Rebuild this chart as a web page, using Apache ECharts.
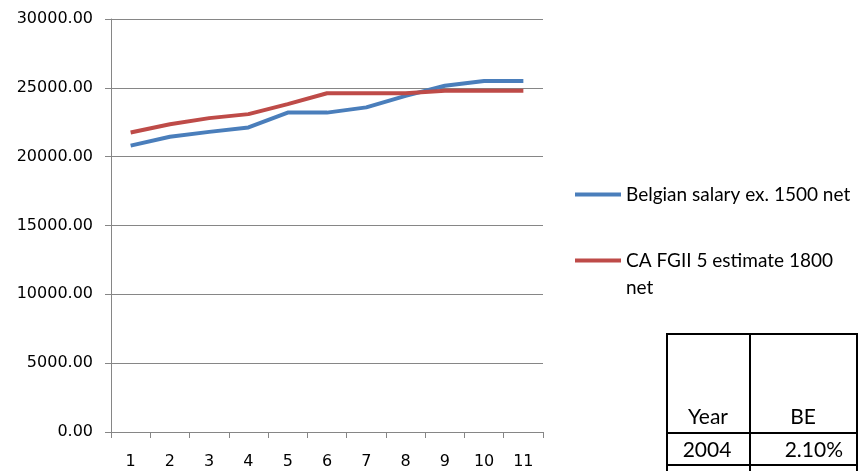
<!DOCTYPE html>
<html>
<head>
<meta charset="utf-8">
<script src="https://cdn.jsdelivr.net/npm/echarts@6/dist/echarts.min.js"></script>
<style>
  html, body { margin: 0; padding: 0; background: #fff; }
  #chart { width: 859px; height: 471px; }
</style>
</head>
<body>
<div id="chart"></div>
<script>
// data
const categories = ['1', '2', '3', '4', '5', '6', '7', '8', '9', '10', '11']
const belgianSalary = [20800, 21450, 21800, 22120, 23200, 23200, 23580, 24420, 25150, 25500, 25500]
const caEstimate = [21760, 22360, 22800, 23090, 23820, 24610, 24610, 24610, 24780, 24780, 24780]
const seriesNames = ['Belgian salary ex. 1500 net', 'CA FGII 5 estimate 1800 net']
const seriesColors = ['#4a7ebb', '#be4b48']

// the little table in the corner
const tableHeader = ['Year', 'BE']
const tableRow = ['2004', '2.10%']

const gridColor = '#868686'
const axisFont = 'DejaVu Sans'
const textFont = 'Lato'

const chart = echarts.init(document.getElementById('chart'), null, { renderer: 'canvas' })

// table drawn as graphic elements (not part of the chart data)
const tx = [667, 750, 857]
const ty = [334, 433, 465, 471]
const tableGraphics = []
tx.forEach((x) => {
  tableGraphics.push({ type: 'line', shape: { x1: x, y1: ty[0], x2: x, y2: ty[3] + 2 }, style: { stroke: '#000', lineWidth: 2 } })
})
ty.slice(0, 3).forEach((y) => {
  tableGraphics.push({ type: 'line', shape: { x1: tx[0] - 1, y1: y, x2: tx[2] + 1, y2: y }, style: { stroke: '#000', lineWidth: 2 } })
})
tableGraphics.push(
  { type: 'text', x: 708, y: 417, style: { text: tableHeader[0], font: `21px ${textFont}`, fill: '#000', align: 'center', verticalAlign: 'middle' } },
  { type: 'text', x: 803, y: 417, style: { text: tableHeader[1], font: `21px ${textFont}`, fill: '#000', align: 'center', verticalAlign: 'middle' } },
  { type: 'text', x: 707, y: 450, style: { text: tableRow[0], font: `21px ${textFont}`, fill: '#000', align: 'center', verticalAlign: 'middle' } },
  { type: 'text', x: 843, y: 450, style: { text: tableRow[1], font: `21px ${textFont}`, fill: '#000', align: 'right', verticalAlign: 'middle' } }
)

const legendText = {
  color: '#000',
  fontFamily: textFont,
  fontSize: 19,
  lineHeight: 27,
}

chart.setOption({
  backgroundColor: '#fff',
  animation: false,
  grid: { left: 111, right: 316, top: 19, bottom: 39 },
  legend: [
    {
      data: [seriesNames[0]],
      left: 575,
      top: 181,
      padding: 0,
      icon: 'rect',
      itemWidth: 46,
      itemHeight: 4,
      itemGap: 2,
      textStyle: legendText,
    },
    {
      data: [seriesNames[1]],
      left: 575,
      top: 220,
      padding: 0,
      icon: 'rect',
      itemWidth: 46,
      itemHeight: 4,
      itemGap: 2,
      // empty first line keeps the icon level with the first text line
      formatter: () => '\nCA FGII 5 estimate 1800\nnet',
      textStyle: legendText,
    },
  ],
  xAxis: {
    type: 'category',
    data: categories,
    boundaryGap: true,
    axisLine: { lineStyle: { color: gridColor, width: 1 } },
    axisTick: { show: true, length: 6, lineStyle: { color: gridColor } },
    axisLabel: { color: '#000', fontFamily: axisFont, fontSize: 16, margin: 22 },
    splitLine: { show: false },
  },
  yAxis: {
    type: 'value',
    min: 0,
    max: 30000,
    interval: 5000,
    axisLine: { show: true, lineStyle: { color: gridColor, width: 1 } },
    axisTick: { show: true, length: 6, lineStyle: { color: gridColor } },
    axisLabel: {
      color: '#000',
      fontFamily: axisFont,
      fontSize: 16,
      margin: 18,
      formatter: (value) => value.toFixed(2),
    },
    splitLine: { lineStyle: { color: gridColor, width: 1 } },
  },
  series: [
    {
      name: seriesNames[0],
      type: 'line',
      data: belgianSalary,
      symbol: 'none',
      lineStyle: { color: seriesColors[0], width: 4 },
      itemStyle: { color: seriesColors[0] },
    },
    {
      name: seriesNames[1],
      type: 'line',
      data: caEstimate,
      symbol: 'none',
      lineStyle: { color: seriesColors[1], width: 4 },
      itemStyle: { color: seriesColors[1] },
    },
  ],
  graphic: tableGraphics,
})
</script>
</body>
</html>
